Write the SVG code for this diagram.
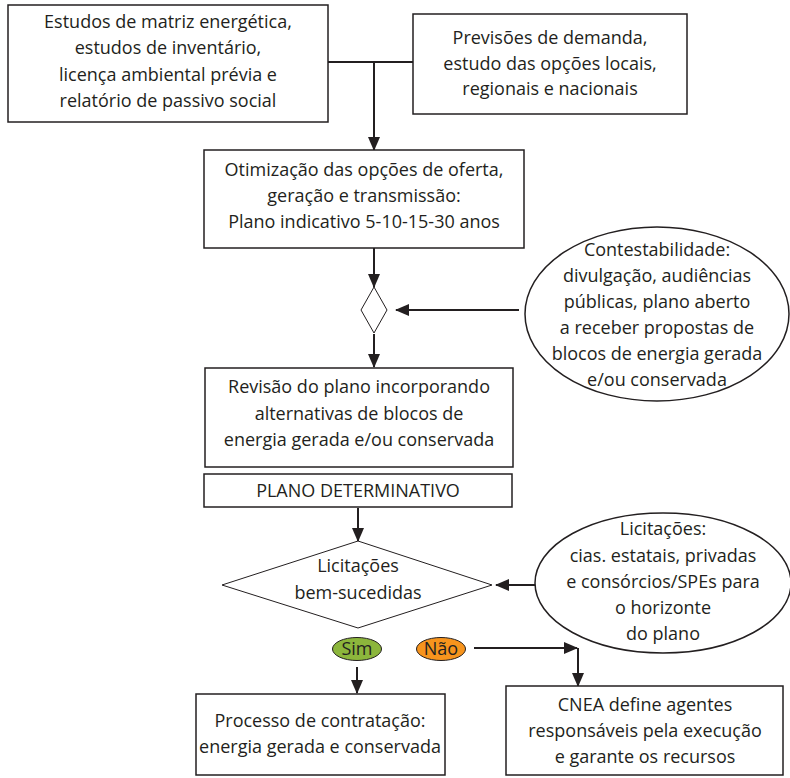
<svg xmlns="http://www.w3.org/2000/svg" width="790" height="778" viewBox="0 0 790 778">
<style>
.box{fill:#fff;stroke:#231f20;stroke-width:1.5}
.thin{fill:#fff;stroke:#231f20;stroke-width:1}
.t{font-family:"Open Sans","Liberation Sans",Arial,sans-serif;font-size:18px;fill:#231f20;text-anchor:middle}
.c{fill:none;stroke:#231f20;stroke-width:2}
</style>
<defs>
<marker id="ah" markerUnits="userSpaceOnUse" markerWidth="14" markerHeight="12" refX="13" refY="6" orient="auto">
<path d="M0,0 L14,6 L0,12 z" fill="#231f20"/>
</marker>
</defs>
<g id="connectors">
<line class="c" x1="328" y1="62" x2="413" y2="62"/>
<line class="c" x1="374" y1="62" x2="374" y2="150" marker-end="url(#ah)"/>
<line class="c" x1="374" y1="248" x2="374" y2="287" marker-end="url(#ah)"/>
<line class="c" x1="519" y1="310" x2="396" y2="310" marker-end="url(#ah)"/>
<line class="c" x1="374" y1="334" x2="374" y2="367" marker-end="url(#ah)"/>
<line class="c" x1="358" y1="508" x2="358" y2="541" marker-end="url(#ah)"/>
<line class="c" x1="535" y1="585" x2="496" y2="585" marker-end="url(#ah)"/>
<line class="c" x1="357" y1="667" x2="357" y2="693" marker-end="url(#ah)"/>
<line class="c" x1="474" y1="648" x2="577" y2="648" marker-end="url(#ah)"/>
<line class="c" x1="578" y1="648" x2="578" y2="686" marker-end="url(#ah)"/>
</g>
<g id="n1">
<rect class="box" x="8" y="5" width="320" height="117"/>
<text class="t" x="168" y="28">Estudos de matriz energética,</text>
<text class="t" x="168" y="54">estudos de inventário,</text>
<text class="t" x="168" y="81">licença ambiental prévia e</text>
<text class="t" x="168" y="107">relatório de passivo social</text>
</g>
<g id="n2">
<rect class="box" x="413" y="14" width="274" height="100"/>
<text class="t" x="550" y="44">Previsões de demanda,</text>
<text class="t" x="550" y="70">estudo das opções locais,</text>
<text class="t" x="550" y="95">regionais e nacionais</text>
</g>
<g id="n3">
<rect class="box" x="204" y="150" width="320" height="98"/>
<text class="t" x="364" y="176">Otimização das opções de oferta,</text>
<text class="t" x="364" y="202">geração e transmissão:</text>
<text class="t" x="364" y="228">Plano indicativo 5-10-15-30 anos</text>
</g>
<g id="d1">
<polygon class="thin" points="374,287 387,310 374,333 361,310"/>
</g>
<g id="e1">
<ellipse class="box" cx="657" cy="314" rx="132" ry="87"/>
<text class="t" x="657" y="256">Contestabilidade:</text>
<text class="t" x="657" y="282">divulgação, audiências</text>
<text class="t" x="657" y="308">públicas, plano aberto</text>
<text class="t" x="657" y="334">a receber propostas de</text>
<text class="t" x="657" y="360">blocos de energia gerada</text>
<text class="t" x="657" y="386">e/ou conservada</text>
</g>
<g id="n4">
<rect class="box" x="205" y="368" width="308" height="99"/>
<text class="t" x="359" y="393">Revisão do plano incorporando</text>
<text class="t" x="359" y="420">alternativas de blocos de</text>
<text class="t" x="359" y="446">energia gerada e/ou conservada</text>
</g>
<g id="n5">
<rect class="box" x="204" y="474" width="308" height="33"/>
<text class="t" x="358" y="497">PLANO DETERMINATIVO</text>
</g>
<g id="d2">
<polygon class="thin" points="358,541 492,585 358,628 222,585"/>
<text class="t" x="358" y="572">Licitações</text>
<text class="t" x="358" y="599">bem-sucedidas</text>
</g>
<g id="e2">
<ellipse class="box" cx="663" cy="583" rx="128" ry="70"/>
<text class="t" x="663" y="535">Licitações:</text>
<text class="t" x="663" y="562">cias. estatais, privadas</text>
<text class="t" x="663" y="588">e consórcios/SPEs para</text>
<text class="t" x="663" y="614">o horizonte</text>
<text class="t" x="663" y="640">do plano</text>
</g>
<g id="sim">
<ellipse cx="357" cy="649" rx="24.5" ry="11.5" fill="#8cb63c" stroke="#231f20" stroke-width="1"/>
<text class="t" x="357" y="655">Sim</text>
</g>
<g id="nao">
<ellipse cx="441" cy="649" rx="24.5" ry="11.5" fill="#f7941d" stroke="#231f20" stroke-width="1"/>
<text class="t" x="441" y="655">Não</text>
</g>
<g id="n6">
<rect class="box" x="196" y="694" width="249" height="81"/>
<text class="t" x="320" y="727">Processo de contratação:</text>
<text class="t" x="320" y="753">energia gerada e conservada</text>
</g>
<g id="n7">
<rect class="box" x="506" y="686" width="277" height="89"/>
<text class="t" x="645" y="711">CNEA define agentes</text>
<text class="t" x="645" y="737">responsáveis pela execução</text>
<text class="t" x="645" y="763">e garante os recursos</text>
</g>
</svg>
